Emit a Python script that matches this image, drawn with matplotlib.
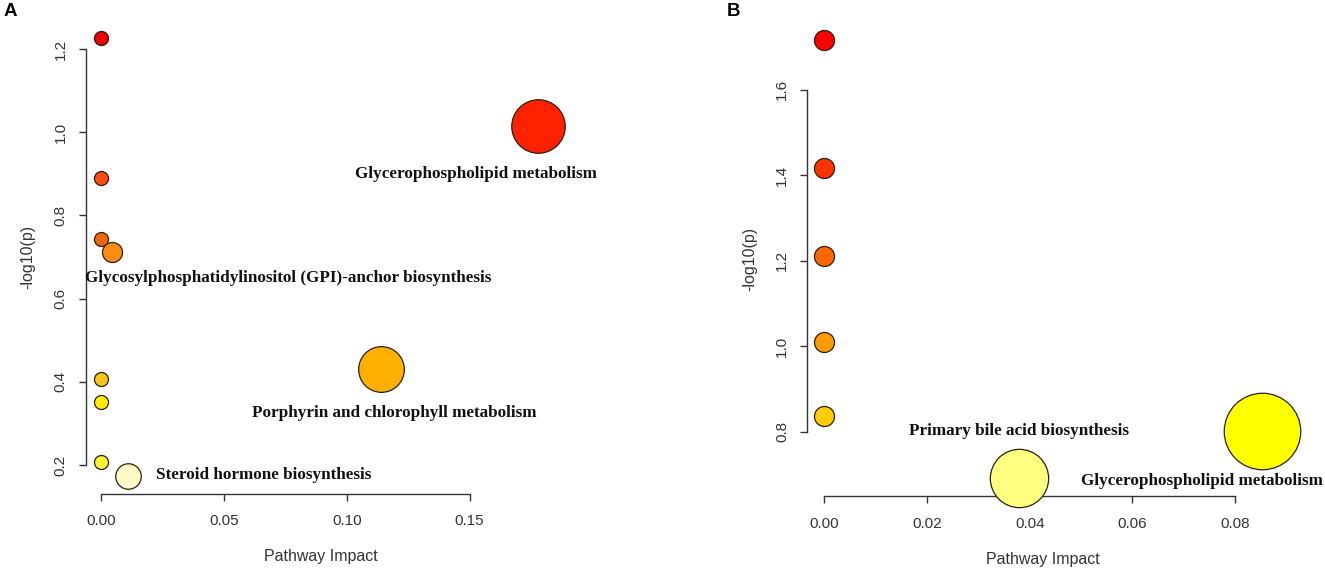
import matplotlib
matplotlib.use("Agg")
import matplotlib.pyplot as plt

# ---------------- data: panel A ----------------
a_names = ["", "", "", "Glycosylphosphatidylinositol (GPI)-anchor biosynthesis", "", "", "",
           "Steroid hormone biosynthesis", "Porphyrin and chlorophyll metabolism",
           "Glycerophospholipid metabolism"]
a_impact = [0.0, 0.0, 0.0, 0.0043, 0.0, 0.0, 0.0, 0.0109, 0.1138, 0.178]
a_logp = [1.227, 0.889, 0.744, 0.713, 0.407, 0.351, 0.207, 0.173, 0.431, 1.014]
a_diam = [14, 14, 14, 20, 14, 14, 14, 25.5, 45.7, 53.5]
a_colors = ["#EE0000", "#FF4A12", "#F2650F", "#FF8C12", "#F5C518", "#FFEE00",
            "#FFF236", "#FFFAC8", "#FFB000", "#FF2200"]
a_xticks = [0.00, 0.05, 0.10, 0.15]
a_xticklabels = ["0.00", "0.05", "0.10", "0.15"]
a_yticks = [0.2, 0.4, 0.6, 0.8, 1.0, 1.2]
a_yticklabels = ["0.2", "0.4", "0.6", "0.8", "1.0", "1.2"]

# ---------------- data: panel B ----------------
b_names = ["", "", "", "", "", "Primary bile acid biosynthesis", "Glycerophospholipid metabolism"]
b_impact = [0.0, 0.0, 0.0, 0.0, 0.0, 0.0379, 0.0852]
b_logp = [1.717, 1.417, 1.211, 1.010, 0.838, 0.692, 0.802]
b_diam = [20, 20, 20, 20, 20, 58.3, 76.5]
b_colors = ["#FF0000", "#FF3300", "#FF6600", "#FF9900", "#FFCC00", "#FFFF80", "#FFFF00"]
b_xticks = [0.00, 0.02, 0.04, 0.06, 0.08]
b_xticklabels = ["0.00", "0.02", "0.04", "0.06", "0.08"]
b_yticks = [0.8, 1.0, 1.2, 1.4, 1.6]
b_yticklabels = ["0.8", "1.0", "1.2", "1.4", "1.6"]

# label offsets (points) relative to bubble centres
a_offsets = {3: (127, -19), 7: (20, 1), 8: (10, -32), 9: (-45, -34)}
b_offsets = {5: (0, 34), 6: (-43, -36)}

W, H, DPI = 1325, 578, 100
fig = plt.figure(figsize=(W / DPI, H / DPI), dpi=DPI)
fig.patch.set_facecolor("white")

AX_COL = "#333333"
TXT_COL = "#333333"
SANS = ["Liberation Sans", "DejaVu Sans"]
SERIF = ["Liberation Serif", "DejaVu Serif"]


def style_axes(ax, xticks, xlabels, yticks, ylabels):
    for s in ("top", "right"):
        ax.spines[s].set_visible(False)
    for s in ("left", "bottom"):
        ax.spines[s].set_color(AX_COL)
        ax.spines[s].set_linewidth(1.0)
        ax.spines[s].set_zorder(1)
    ax.spines["left"].set_bounds(yticks[0], yticks[-1])
    ax.spines["bottom"].set_bounds(xticks[0], xticks[-1])
    ax.set_xticks(xticks)
    ax.set_xticklabels(xlabels, fontfamily=SANS, fontsize=11, color=TXT_COL)
    ax.set_yticks(yticks)
    ax.set_yticklabels(ylabels, fontfamily=SANS, fontsize=11, color=TXT_COL,
                       rotation=90, va="center")
    ax.tick_params(axis="both", length=5, width=1.0, color=AX_COL)
    ax.tick_params(axis="x", pad=10)
    ax.tick_params(axis="y", pad=8)
    ax.set_xlabel("Pathway Impact", fontfamily=SANS, fontsize=11.5, color=TXT_COL, labelpad=15)
    ax.set_ylabel("-log10(p)", fontfamily=SANS, fontsize=11.5, color=TXT_COL, labelpad=13)
    ax.patch.set_alpha(0)


def draw_panel(ax, xs, ys, diam, cols, names, offsets, left_idx=()):
    sizes = [(d * 72 / DPI) ** 2 for d in diam]
    for i in range(len(xs)):
        ax.scatter([xs[i]], [ys[i]], s=sizes[i], c=cols[i], edgecolors="#2b2010",
                   linewidths=0.9, zorder=3 + i, clip_on=False)
    for i, (dx, dy) in offsets.items():
        ha = "left" if i in left_idx else "center"
        ax.annotate(names[i], (xs[i], ys[i]), xytext=(dx, dy), textcoords="offset points",
                    ha=ha, va="center", fontfamily=SERIF, fontweight="bold",
                    fontsize=12.3, color="#111111", zorder=20, annotation_clip=False)


# Panel A
axA = fig.add_axes([85.5 / W, 1 - 493.5 / H, 470 / W, 473.2 / H])
axA.set_xlim(-0.00652, 0.18501)
axA.set_ylim(0.1315, 1.2690)
style_axes(axA, a_xticks, a_xticklabels, a_yticks, a_yticklabels)
draw_panel(axA, a_impact, a_logp, a_diam, a_colors, a_names, a_offsets, left_idx=(7,))

# Panel B
axB = fig.add_axes([807 / W, 1 - 496 / H, 472 / W, 473.5 / H])
axB.set_xlim(-0.00341, 0.08860)
axB.set_ylim(0.650, 1.7576)
style_axes(axB, b_xticks, b_xticklabels, b_yticks, b_yticklabels)
draw_panel(axB, b_impact, b_logp, b_diam, b_colors, b_names, b_offsets)

fig.text(10 / W, 1 - 12 / H, "A", fontfamily=SANS, fontweight="bold", fontsize=13.5,
         ha="center", va="center")
fig.text(733.5 / W, 1 - 12 / H, "B", fontfamily=SANS, fontweight="bold", fontsize=13.5,
         ha="center", va="center")

fig.savefig("out.png", dpi=DPI)
